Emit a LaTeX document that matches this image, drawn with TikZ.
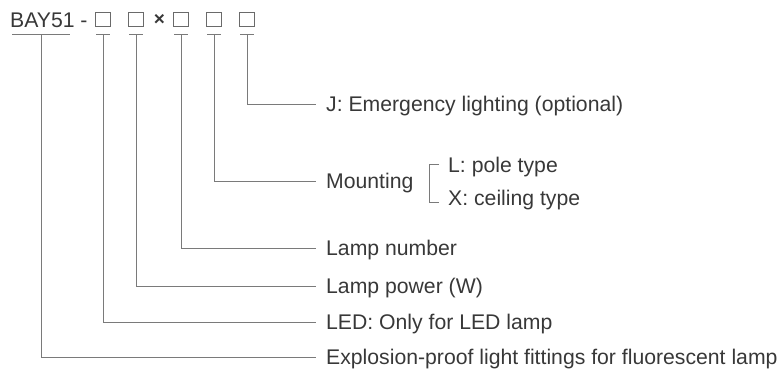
\documentclass[tikz,border=0pt]{standalone}
\usepackage{fontspec}
\setmainfont{Liberation Sans}
\definecolor{textc}{HTML}{383838}
\definecolor{linec}{HTML}{7A7A7A}
\definecolor{boxc}{HTML}{6A6A6A}
\begin{document}
\begin{tikzpicture}[x=1pt,y=-1pt,
  txt/.style={text=textc, font=\fontsize{21.2}{24}\selectfont, inner sep=0pt},
  lbl/.style={txt, anchor=west, text height=15pt, text depth=0pt, inner xsep=10pt, inner ysep=0pt},
  codebox/.style={draw=boxc, line width=1pt, minimum size=14.5pt, inner sep=0pt},
  conn/.style={draw=linec, line width=0.8pt}]
\useasboundingbox (0,0) rectangle (781,373);
% code
\node[txt, anchor=base west] (bay) at (10,27) {BAY51};
\node[txt, anchor=base] (dash) at (84,27) {-};
\node[codebox] (b1) at (103,19.5) {};
\node[codebox] (b2) at (136,19.5) {};
\node[txt, font=\fontsize{19}{20}\selectfont\bfseries] (times) at (159.5,19.5) {×};
\node[codebox] (b3) at (181,19.5) {};
\node[codebox] (b4) at (214,19.5) {};
\node[codebox] (b5) at (247,19.5) {};
% underline anchors
\coordinate (ubay) at (41,34.5);
\coordinate (u1) at (103,34.5);
\coordinate (u2) at (136,34.5);
\coordinate (u3) at (181,34.5);
\coordinate (u4) at (214,34.5);
\coordinate (u5) at (247,34.5);
% labels
\node[lbl] (lJ) at (316,104) {J: Emergency lighting (optional)};
\node[lbl] (lM) at (316,181) {Mounting};
\node[lbl, inner xsep=9pt] (lL) at (439,164.5) {L: pole type};
\node[lbl, inner xsep=9pt] (lX) at (439,198) {X: ceiling type};
\node[lbl] (lN) at (316,248) {Lamp number};
\node[lbl] (lP) at (316,286) {Lamp power (W)};
\node[lbl] (lLED) at (316,322) {LED: Only for LED lamp};
\node[lbl] (lE) at (316,357) {Explosion-proof light fittings for fluorescent lamp};
% underlines
\draw[conn] ([xshift=-29pt]ubay) -- ([xshift=29pt]ubay);
\foreach \u in {u1,u2,u3,u4,u5}
  \draw[conn] ([xshift=-7pt]\u) -- ([xshift=7pt]\u);
% connectors
\draw[conn] (u5) |- (lJ.west);
\draw[conn] (u4) |- (lM.west);
\draw[conn] (u3) |- (lN.west);
\draw[conn] (u2) |- (lP.west);
\draw[conn] (u1) |- (lLED.west);
\draw[conn] (ubay) |- (lE.west);
% bracket
\draw[conn] (lL.west) -- ++(-10,0) |- ([yshift=-4pt]lX.west);
\end{tikzpicture}
\end{document}
